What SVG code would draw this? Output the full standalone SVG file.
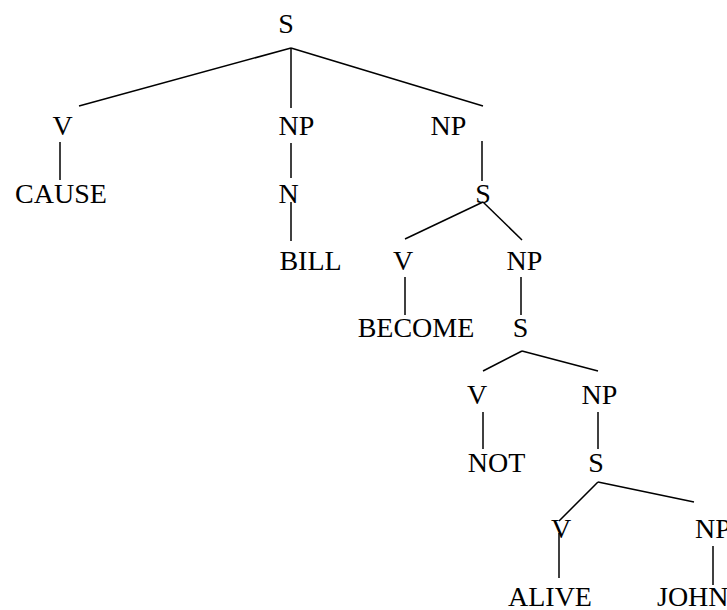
<svg xmlns="http://www.w3.org/2000/svg" width="727" height="610" viewBox="0 0 727 610">
<style>
text{font-family:"Liberation Serif","Times New Roman",serif;font-size:28px;fill:#000;text-anchor:middle}
.st{text-anchor:start}
line{stroke:#000;stroke-width:1.5;fill:none}
</style>
<rect width="727" height="610" fill="#fff"/>
<g id="connectors">
<line x1="291" y1="48" x2="79" y2="106"/>
<line x1="291" y1="48" x2="291" y2="108"/>
<line x1="291" y1="48" x2="483" y2="106"/>
<line x1="60" y1="142" x2="60" y2="180"/>
<line x1="291" y1="143" x2="291" y2="178"/>
<line x1="291" y1="202" x2="291" y2="241"/>
<line x1="482" y1="141" x2="482" y2="181"/>
<line x1="483" y1="202" x2="405" y2="239"/>
<line x1="483" y1="202" x2="522" y2="240"/>
<line x1="405" y1="277" x2="405" y2="315"/>
<line x1="521" y1="277" x2="521" y2="315"/>
<line x1="522" y1="351" x2="483" y2="371"/>
<line x1="522" y1="351" x2="598" y2="371"/>
<line x1="483" y1="412" x2="483" y2="449"/>
<line x1="598" y1="412" x2="598" y2="449"/>
<line x1="598" y1="482" x2="559" y2="521"/>
<line x1="598" y1="482" x2="694" y2="502"/>
<line x1="559" y1="533" x2="559" y2="578"/>
<line x1="713" y1="546" x2="713" y2="585"/>
</g>
<g id="n-s0"><text x="286" y="33">S</text></g>
<g id="n-v1"><text x="62.5" y="135">V</text></g>
<g id="n-cause"><text x="61" y="203">CAUSE</text></g>
<g id="n-np1"><text x="296.5" y="135">NP</text></g>
<g id="n-n"><text x="288.5" y="203">N</text></g>
<g id="n-bill"><text x="310.5" y="270">BILL</text></g>
<g id="n-np2"><text x="448.5" y="135">NP</text></g>
<g id="n-s2"><text x="483" y="203">S</text></g>
<g id="n-v3"><text x="403" y="270">V</text></g>
<g id="n-np3"><text x="524.5" y="270">NP</text></g>
<g id="n-become"><text x="416" y="337">BECOME</text></g>
<g id="n-s4"><text x="520.5" y="337">S</text></g>
<g id="n-v5"><text x="477" y="404">V</text></g>
<g id="n-np5"><text x="599.5" y="404">NP</text></g>
<g id="n-not"><text x="496.5" y="472">NOT</text></g>
<g id="n-s6"><text x="596" y="472">S</text></g>
<g id="n-v7"><text x="561" y="538">V</text></g>
<g id="n-np7"><text class="st" x="695" y="538">NP</text></g>
<g id="n-alive"><text x="550" y="606">ALIVE</text></g>
<g id="n-john"><text class="st" x="657" y="606">JOHN</text></g>
</svg>
